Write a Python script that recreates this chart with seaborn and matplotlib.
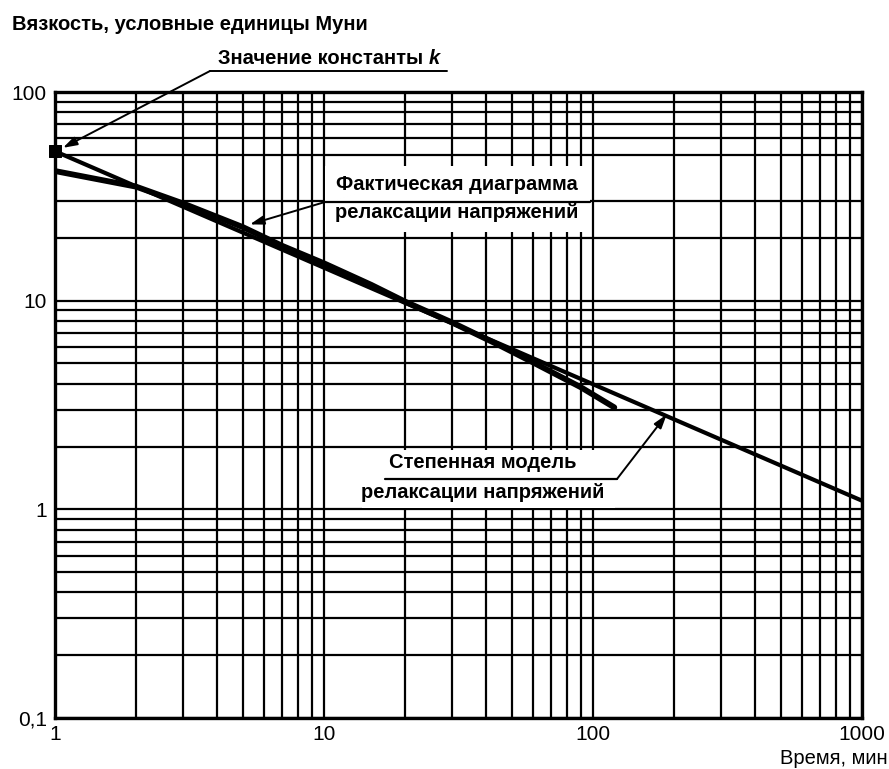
import matplotlib
matplotlib.use("Agg")
import matplotlib.pyplot as plt
import seaborn as sns
import pandas as pd
from matplotlib.patches import Rectangle
from matplotlib.lines import Line2D

# ---------------- data ----------------
time_model = [1, 1000]
visc_model = [52, 1.1]

time_actual = [1, 1.5, 2, 3, 5, 7, 10, 15, 20, 30, 45, 60, 90, 120]
visc_actual = [41.8, 37.8, 35.2, 29.2, 22.5, 18.3, 15.1, 11.9, 9.9, 7.85, 6.1, 5.05, 3.85, 3.08]

k_time = [1]
k_value = [52]

x_major = [1, 10, 100, 1000]
x_major_labels = ["1", "10", "100", "1000"]
y_major = [0.1, 1, 10, 100]
y_major_labels = ["0,1", "1", "10", "100"]
x_minor = [2, 3, 4, 5, 6, 7, 8, 9,
           20, 30, 40, 50, 60, 70, 80, 90,
           200, 300, 400, 500, 600, 700, 800, 900]
y_minor = [0.2, 0.3, 0.4, 0.5, 0.6, 0.7, 0.8, 0.9,
           2, 3, 4, 5, 6, 7, 8, 9,
           20, 30, 50, 60, 70, 80, 90]

title_text = "Вязкость, условные единицы Муни"
xlabel_text = "Время, мин"
k_text = "Значение константы "
k_symbol = "k"
actual_text = ["Фактическая диаграмма", "релаксации напряжений"]
model_text = ["Степенная модель", "релаксации напряжений"]

# ---------------- style ----------------
sns.set_theme(style="white")
plt.rcParams["font.family"] = ["Liberation Sans", "DejaVu Sans"]

W, H = 889, 769
fig = plt.figure(figsize=(W / 100, H / 100), dpi=100)
L, R, T, B = 55, 862, 92, 718
ax = fig.add_axes([L / W, 1 - B / H, (R - L) / W, (B - T) / H])


def af(px, py):
    """pixel position -> axes fraction"""
    return ((px - L) / (R - L), (B - py) / (B - T))


ax.set_xscale("log")
ax.set_yscale("log")
ax.set_xlim(1, 1000)
ax.set_ylim(0.1, 100)

ax.set_xticks(x_major)
ax.set_xticklabels(x_major_labels)
ax.set_yticks(y_major)
ax.set_yticklabels(y_major_labels)
ax.set_xticks(x_minor, minor=True)
ax.set_yticks(y_minor, minor=True)
ax.tick_params(which="both", length=0)
ax.tick_params(axis="x", which="major", pad=5, labelsize=15, colors="black")
ax.tick_params(axis="y", which="major", pad=6, labelsize=15, colors="black")
ax.tick_params(which="minor", labelbottom=False, labelleft=False)

ax.set_axisbelow(True)
ax.grid(True, which="both", color="black", linewidth=1.6)
for s in ax.spines.values():
    s.set_color("black")
    s.set_linewidth(2.4)
    s.set_zorder(6)

# ---------------- lines ----------------
df_model = pd.DataFrame({"t": time_model, "v": visc_model})
df_actual = pd.DataFrame({"t": time_actual, "v": visc_actual})
sns.lineplot(data=df_model, x="t", y="v", ax=ax, color="black", linewidth=3.0,
             zorder=4, estimator=None, sort=False)
sns.lineplot(data=df_actual, x="t", y="v", ax=ax, color="black", linewidth=4.2,
             zorder=4, estimator=None, sort=False)
df_k = pd.DataFrame({"t": k_time, "v": k_value})
sns.scatterplot(data=df_k, x="t", y="v", ax=ax, marker="s", s=80, color="black",
                edgecolor="black", zorder=7, clip_on=False)
ax.set_xlabel("")
ax.set_ylabel("")

# ---------------- white boxes behind annotation texts ----------------
for (x0, y0, x1, y1) in [(325, 166, 590, 232), (362, 450, 615, 508)]:
    fx0, fy1 = af(x0, y0)
    fx1, fy0 = af(x1, y1)
    ax.add_patch(Rectangle((fx0, fy0), fx1 - fx0, fy1 - fy0, transform=ax.transAxes,
                           facecolor="white", edgecolor="none", zorder=2))

ann_fs = 14.5
ann_w = "bold"
arrow_style = dict(arrowstyle="-|>,head_length=0.7,head_width=0.22",
                   color="black", lw=1.4, shrinkA=0, shrinkB=0)

# actual curve label
cx, _ = af(457, 0)
ax.text(cx, af(0, 184)[1], actual_text[0], transform=ax.transAxes, ha="center",
        va="center", fontsize=ann_fs, fontweight=ann_w, color="black", zorder=5)
ax.text(cx, af(0, 212)[1], actual_text[1], transform=ax.transAxes, ha="center",
        va="center", fontsize=ann_fs, fontweight=ann_w, color="black", zorder=5)
sx0, sy = af(325, 202)
sx1, _ = af(590, 202)
ax.add_line(Line2D([sx0, sx1], [sy, sy], transform=ax.transAxes, color="black",
                   linewidth=1.6, zorder=3))
ax.annotate("", xy=(5.3, 23.2), xycoords="data", xytext=(sx0, sy),
            textcoords="axes fraction", arrowprops=arrow_style, zorder=5)

# model label
cx, _ = af(483, 0)
ax.text(cx, af(0, 463)[1], model_text[0], transform=ax.transAxes, ha="center",
        va="center", fontsize=ann_fs, fontweight=ann_w, color="black", zorder=5)
ax.text(cx, af(0, 492)[1], model_text[1], transform=ax.transAxes, ha="center",
        va="center", fontsize=ann_fs, fontweight=ann_w, color="black", zorder=5)
mx0, my = af(385, 479)
mx1, _ = af(617, 479)
ax.add_line(Line2D([mx0, mx1], [my, my], transform=ax.transAxes, color="black",
                   linewidth=1.6, zorder=3))
ax.annotate("", xy=(188, 2.85), xycoords="data", xytext=(mx1, my),
            textcoords="axes fraction", arrowprops=arrow_style, zorder=5)

# constant k label (above the axes)
kx0, ky = af(210, 71)
kx1, _ = af(447, 71)
ax.add_line(Line2D([kx0, kx1], [ky, ky], transform=ax.transAxes, color="black",
                   linewidth=1.4, clip_on=False, zorder=5))
ax.annotate("", xy=(1.07, 54), xycoords="data", xytext=(kx0, ky),
            textcoords="axes fraction", annotation_clip=False,
            arrowprops=arrow_style, zorder=8)
tx, ty = af(429, 58)
ax.text(tx, ty, k_text, transform=ax.transAxes, ha="right", va="center",
        fontsize=ann_fs, fontweight=ann_w, color="black", clip_on=False)
ax.text(tx, ty, k_symbol, transform=ax.transAxes, ha="left", va="center",
        fontsize=ann_fs, fontweight="bold", fontstyle="italic", color="black",
        clip_on=False)

# title and x label
fig.text(12 / W, 1 - 25 / H, title_text, ha="left", va="center", fontsize=14.5,
         fontweight="bold", color="black")
fig.text(888 / W, 1 / H, xlabel_text, ha="right", va="bottom", fontsize=14.5,
         color="black")

fig.savefig("out.png", dpi=100, facecolor="white")
